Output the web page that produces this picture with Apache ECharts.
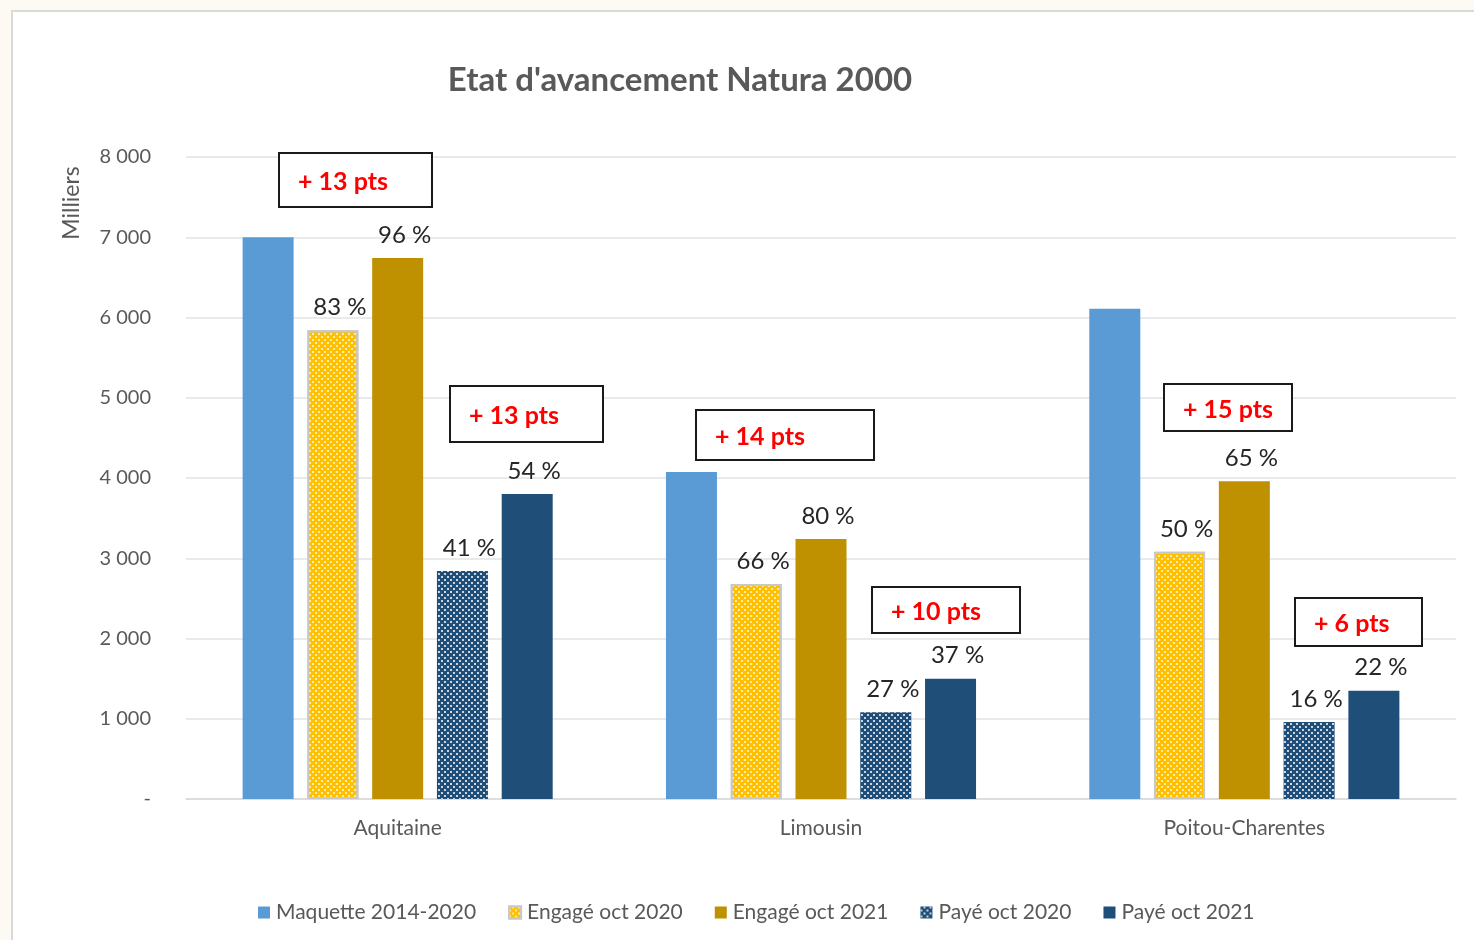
<!DOCTYPE html>
<html>
<head>
<meta charset="utf-8">
<script src="https://cdn.jsdelivr.net/npm/echarts@6/dist/echarts.min.js"></script>
<style>
  html, body { margin: 0; padding: 0; background: #fdfaf3; }
  #panel { position: absolute; left: 11px; top: 10px; width: 1470px; height: 940px; background: #ffffff; border-left: 2px solid #d9d9d9; border-top: 2px solid #d9d9d9; }
  #chart { position: absolute; left: 0; top: 0; width: 1474px; height: 940px; }
</style>
</head>
<body>
<div id="panel"></div>
<div id="chart"></div>
<script>
// ---- Data ----
const categories = ['Aquitaine', 'Limousin', 'Poitou-Charentes'];
const seriesNames = ['Maquette 2014-2020', 'Engagé oct 2020', 'Engagé oct 2021', 'Payé oct 2020', 'Payé oct 2021'];
const maquette   = [7000, 4075, 6110];
const engage2020 = [5840, 2680, 3080];
const engage2021 = [6740, 3240, 3960];
const paye2020   = [2840, 1080, 960];
const paye2021   = [3800, 1500, 1350];
const engage2020Pct = ['83 %', '66 %', '50 %'];
const engage2021Pct = ['96 %', '80 %', '65 %'];
const paye2020Pct   = ['41 %', '27 %', '16 %'];
const paye2021Pct   = ['54 %', '37 %', '22 %'];
const annotationTexts = ['+ 13 pts', '+ 13 pts', '+ 14 pts', '+ 10 pts', '+ 15 pts', '+ 6 pts'];
const titleText = "Etat d'avancement Natura 2000";
const yAxisName = 'Milliers';

// ---- Layout (annotation boxes: x, y, w, h in px) ----
const annotationBoxes = [
  [279, 153, 153, 54],
  [450, 386, 153, 56],
  [696, 410, 178, 50],
  [872, 587, 148, 46],
  [1164, 384, 128, 47],
  [1295, 598, 127, 48]
];

const FONT = 'Lato, "Open Sans", sans-serif';
const GRAY = '#595959';

function fmtThousands(v) {
  if (v === 0) return '-';
  return String(v).replace(/\B(?=(\d{3})+(?!\d))/g, ' ');
}

function labelCfg(arr) {
  return {
    show: true, position: 'top', distance: 11, offset: [7, 0],
    fontFamily: FONT, fontSize: 24, color: '#262626',
    formatter: p => arr[p.dataIndex]
  };
}

const dotsYellow = {
  symbol: 'rect', symbolSize: 0.9,
  color: 'rgba(255,255,255,0.75)',
  dashArrayX: [[2, 4], [0, 3, 2, 1]],
  dashArrayY: [2, 1],
  rotation: 0
};
const dotsBlue = {
  symbol: 'rect', symbolSize: 0.9,
  color: 'rgba(255,255,255,0.85)',
  dashArrayX: [[2, 4], [0, 3, 2, 1]],
  dashArrayY: [2, 1],
  rotation: 0
};

const chart = echarts.init(document.getElementById('chart'), null, { renderer: 'canvas' });

const graphics = [
  {
    type: 'text', x: 72, y: 203, rotation: Math.PI / 2,
    style: { text: yAxisName, fill: GRAY, font: '23px ' + FONT, textAlign: 'center', textVerticalAlign: 'middle' }
  }
];
annotationTexts.forEach((t, i) => {
  const b = annotationBoxes[i];
  graphics.push({
    type: 'rect', shape: { x: b[0], y: b[1], width: b[2], height: b[3] },
    style: { fill: '#ffffff', stroke: '#1a1a1a', lineWidth: 2 }, z: 100
  });
  graphics.push({
    type: 'text', x: b[0] + 19, y: b[1] + b[3] / 2 + 2, z: 101,
    style: { text: t, fill: '#ff0000', font: 'bold 25px ' + FONT, textAlign: 'left', textVerticalAlign: 'middle' }
  });
});

const option = {
  backgroundColor: 'transparent',
  animation: false,
  title: {
    text: titleText, left: 675, top: 59, textAlign: 'center',
    textStyle: { fontFamily: FONT, fontSize: 33, fontWeight: 'bold', color: GRAY }
  },
  grid: { left: 186, right: 18, top: 157, bottom: 141 },
  legend: {
    bottom: 12, left: 253, itemWidth: 12, itemHeight: 12, itemGap: 32,
    icon: 'rect',
    textStyle: { fontFamily: FONT, fontSize: 21, color: GRAY, padding: [0, 0, 0, 1] },
    data: seriesNames
  },
  xAxis: {
    type: 'category', data: categories,
    axisLine: { lineStyle: { color: '#d9d9d9', width: 1.5 } },
    axisTick: { show: false },
    axisLabel: { fontFamily: FONT, fontSize: 21, color: GRAY, margin: 19 }
  },
  yAxis: {
    type: 'value', min: 0, max: 8000, interval: 1000,
    axisLine: { show: false }, axisTick: { show: false },
    splitLine: { lineStyle: { color: '#e3e3e3', width: 1.5 } },
    axisLabel: { fontFamily: FONT, fontSize: 20, color: GRAY, margin: 35, formatter: fmtThousands }
  },
  graphic: graphics,
  series: [
    { name: seriesNames[0], type: 'bar', data: maquette, barWidth: 51, barGap: '27%',
      itemStyle: { color: '#5b9bd5' } },
    { name: seriesNames[1], type: 'bar', data: engage2020, barWidth: 51,
      itemStyle: { color: '#ffc000', borderColor: '#c8c8c8', borderWidth: 2, decal: dotsYellow },
      label: labelCfg(engage2020Pct) },
    { name: seriesNames[2], type: 'bar', data: engage2021, barWidth: 51,
      itemStyle: { color: '#bf9000' },
      label: labelCfg(engage2021Pct) },
    { name: seriesNames[3], type: 'bar', data: paye2020, barWidth: 51,
      itemStyle: { color: '#1f4e79', decal: dotsBlue },
      label: labelCfg(paye2020Pct) },
    { name: seriesNames[4], type: 'bar', data: paye2021, barWidth: 51,
      itemStyle: { color: '#1f4e79' },
      label: labelCfg(paye2021Pct) }
  ]
};
chart.setOption(option);
</script>
</body>
</html>
